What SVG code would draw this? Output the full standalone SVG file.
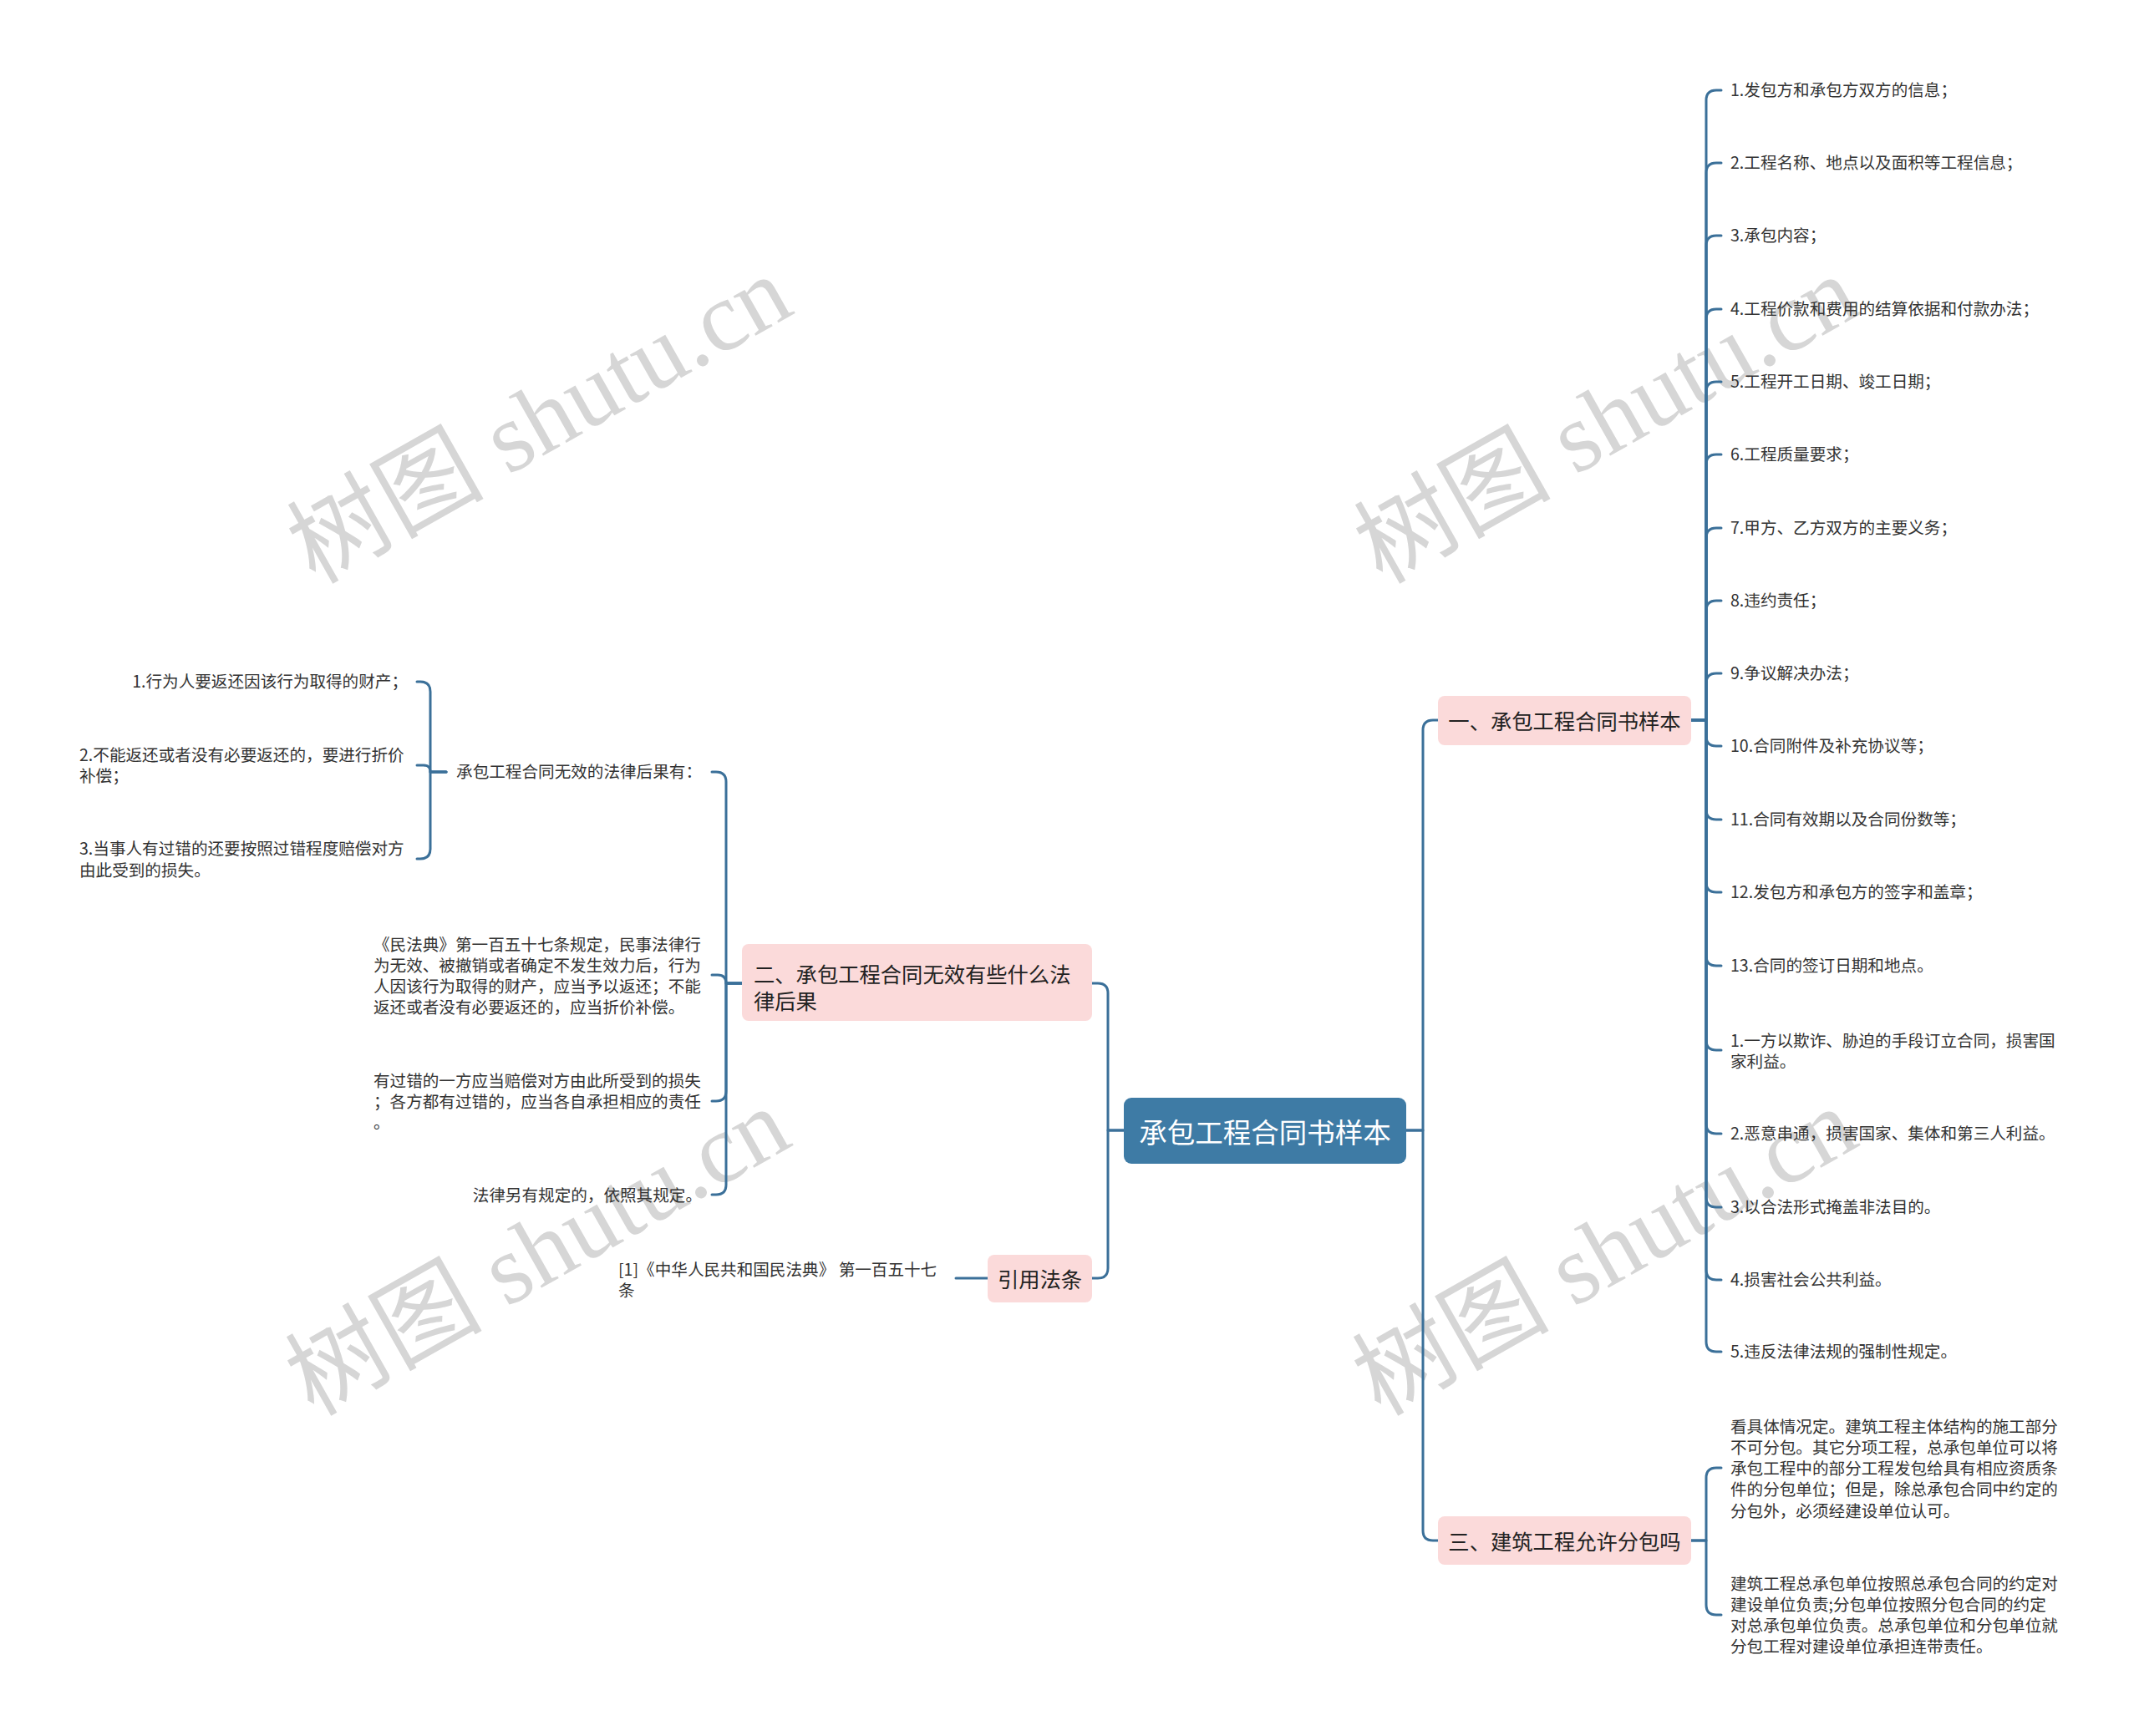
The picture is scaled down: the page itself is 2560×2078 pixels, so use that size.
<svg xmlns="http://www.w3.org/2000/svg" width="2560" height="2078" viewBox="0 0 2560 2078">
<style>
.bg{fill:#ffffff}
.wm{font-family:"Liberation Serif","Noto Sans CJK SC",serif;font-size:118px;fill:#d6d6d6}
.con path{fill:none;stroke:#3b7099;stroke-width:3;stroke-linecap:round;stroke-linejoin:round}
.root rect{fill:#3e7ba5}
.root text{font-family:"Noto Sans CJK SC",sans-serif;font-size:33.5px;fill:#ffffff;dominant-baseline:central;text-anchor:middle}
.l1 rect{fill:#fbdada}
.l1 text{font-family:"Noto Sans CJK SC",sans-serif;font-size:25.3px;fill:#222222;dominant-baseline:central}
.leaf text{font-family:"Noto Sans CJK SC",sans-serif;font-size:19.6px;fill:#333333;dominant-baseline:central;transform:translateY(-1.5px)}
.mid{text-anchor:middle}
.end{text-anchor:end}
</style>
<rect class="bg" x="0" y="0" width="2560" height="2078"/>
<g id="watermarks">
<text class="wm" x="377" y="700" transform="rotate(-29.5 377 700)">树图 shutu.cn</text>
<text class="wm" x="1654" y="700" transform="rotate(-29.5 1654 700)">树图 shutu.cn</text>
<text class="wm" x="375" y="1696" transform="rotate(-29.5 375 1696)">树图 shutu.cn</text>
<text class="wm" x="1652" y="1696" transform="rotate(-29.5 1652 1696)">树图 shutu.cn</text>
</g>
<g id="connectors" class="con">
<path d="M1345,1353 H1326 V1189 Q1326,1177 1314,1177 H1307"/>
<path d="M1345,1353 H1326 V1518 Q1326,1530 1314,1530 H1307"/>
<path d="M1683,1353 H1703 V874 Q1703,862 1715,862 H1721"/>
<path d="M1683,1353 H1703 V1832 Q1703,1844 1715,1844 H1721"/>
<path d="M2024,862 H2042 V120 Q2042,108 2054,108 H2060"/>
<path d="M2024,862 H2042 V207 Q2042,195 2054,195 H2060"/>
<path d="M2024,862 H2042 V294 Q2042,282 2054,282 H2060"/>
<path d="M2024,862 H2042 V382 Q2042,370 2054,370 H2060"/>
<path d="M2024,862 H2042 V469 Q2042,457 2054,457 H2060"/>
<path d="M2024,862 H2042 V556 Q2042,544 2054,544 H2060"/>
<path d="M2024,862 H2042 V644 Q2042,632 2054,632 H2060"/>
<path d="M2024,862 H2042 V731 Q2042,719 2054,719 H2060"/>
<path d="M2024,862 H2042 V818 Q2042,806 2054,806 H2060"/>
<path d="M2024,862 H2042 V881 Q2042,893 2054,893 H2060"/>
<path d="M2024,862 H2042 V969 Q2042,981 2054,981 H2060"/>
<path d="M2024,862 H2042 V1056 Q2042,1068 2054,1068 H2060"/>
<path d="M2024,862 H2042 V1144 Q2042,1156 2054,1156 H2060"/>
<path d="M2024,862 H2042 V1245 Q2042,1257 2054,1257 H2060"/>
<path d="M2024,862 H2042 V1345 Q2042,1357 2054,1357 H2060"/>
<path d="M2024,862 H2042 V1433 Q2042,1445 2054,1445 H2060"/>
<path d="M2024,862 H2042 V1520 Q2042,1532 2054,1532 H2060"/>
<path d="M2024,862 H2042 V1606 Q2042,1618 2054,1618 H2060"/>
<path d="M2024,1844 H2042 V1769 Q2042,1757 2054,1757 H2060"/>
<path d="M2024,1844 H2042 V1921 Q2042,1933 2054,1933 H2060"/>
<path d="M888,1177 H869 V936 Q869,924 857,924 H852"/>
<path d="M888,1177 H869 Q869,1167 859,1167 H852"/>
<path d="M888,1177 H869 V1306 Q869,1318 857,1318 H852"/>
<path d="M888,1177 H869 V1418 Q869,1430 857,1430 H852"/>
<path d="M534,924 H515 V828 Q515,816 503,816 H499"/>
<path d="M534,924 H515 Q515,916 507,916 H499"/>
<path d="M534,924 H515 V1016 Q515,1028 503,1028 H499"/>
<path d="M1182,1530 H1144"/>
</g>
<g id="root" class="root">
<rect x="1345" y="1314" width="338" height="79" rx="9"/>
<text x="1514" y="1353">承包工程合同书样本</text>
</g>
<g id="n1" class="l1">
<rect x="1721" y="833" width="303" height="59" rx="8"/>
<text class="mid" x="1872.5" y="862">一、承包工程合同书样本</text>
</g>
<g id="n3" class="l1">
<rect x="1721" y="1815" width="303" height="58" rx="8"/>
<text class="mid" x="1872.5" y="1843.5">三、建筑工程允许分包吗</text>
</g>
<g id="n2" class="l1">
<rect x="888" y="1130" width="419" height="92" rx="8"/>
<text><tspan x="902" y="1164.5">二、承包工程合同无效有些什么法</tspan><tspan x="902" y="1196.5">律后果</tspan></text>
</g>
<g id="n4" class="l1">
<rect x="1182" y="1502" width="125" height="57" rx="8"/>
<text class="mid" x="1244.5" y="1530">引用法条</text>
</g>
<g id="r1" class="leaf"><text x="2071" y="108">1.发包方和承包方双方的信息；</text></g>
<g id="r2" class="leaf"><text x="2071" y="195">2.工程名称、地点以及面积等工程信息；</text></g>
<g id="r3" class="leaf"><text x="2071" y="282">3.承包内容；</text></g>
<g id="r4" class="leaf"><text x="2071" y="370">4.工程价款和费用的结算依据和付款办法；</text></g>
<g id="r5" class="leaf"><text x="2071" y="457">5.工程开工日期、竣工日期；</text></g>
<g id="r6" class="leaf"><text x="2071" y="544">6.工程质量要求；</text></g>
<g id="r7" class="leaf"><text x="2071" y="632">7.甲方、乙方双方的主要义务；</text></g>
<g id="r8" class="leaf"><text x="2071" y="719">8.违约责任；</text></g>
<g id="r9" class="leaf"><text x="2071" y="806">9.争议解决办法；</text></g>
<g id="r10" class="leaf"><text x="2071" y="893">10.合同附件及补充协议等；</text></g>
<g id="r11" class="leaf"><text x="2071" y="981">11.合同有效期以及合同份数等；</text></g>
<g id="r12" class="leaf"><text x="2071" y="1068">12.发包方和承包方的签字和盖章；</text></g>
<g id="r13" class="leaf"><text x="2071" y="1156">13.合同的签订日期和地点。</text></g>
<g id="r14" class="leaf"><text><tspan x="2071" y="1245">1.一方以欺诈、胁迫的手段订立合同，损害国</tspan><tspan x="2071" y="1270">家利益。</tspan></text></g>
<g id="r15" class="leaf"><text x="2071" y="1357">2.恶意串通，损害国家、集体和第三人利益。</text></g>
<g id="r16" class="leaf"><text x="2071" y="1445">3.以合法形式掩盖非法目的。</text></g>
<g id="r17" class="leaf"><text x="2071" y="1532">4.损害社会公共利益。</text></g>
<g id="r18" class="leaf"><text x="2071" y="1618">5.违反法律法规的强制性规定。</text></g>
<g id="r19" class="leaf"><text><tspan x="2071" y="1707">看具体情况定。建筑工程主体结构的施工部分</tspan><tspan x="2071" y="1732.3">不可分包。其它分项工程，总承包单位可以将</tspan><tspan x="2071" y="1757.6">承包工程中的部分工程发包给具有相应资质条</tspan><tspan x="2071" y="1782.9">件的分包单位；但是，除总承包合同中约定的</tspan><tspan x="2071" y="1808.2">分包外，必须经建设单位认可。</tspan></text></g>
<g id="r20" class="leaf"><text><tspan x="2071" y="1895">建筑工程总承包单位按照总承包合同的约定对</tspan><tspan x="2071" y="1920.3">建设单位负责;分包单位按照分包合同的约定</tspan><tspan x="2071" y="1945.6">对总承包单位负责。总承包单位和分包单位就</tspan><tspan x="2071" y="1970.9">分包工程对建设单位承担连带责任。</tspan></text></g>
<g id="l1" class="leaf"><text class="end" x="840" y="924">承包工程合同无效的法律后果有：</text></g>
<g id="l2" class="leaf"><text><tspan x="447" y="1130">《民法典》第一百五十七条规定，民事法律行</tspan><tspan x="447" y="1155.3">为无效、被撤销或者确定不发生效力后，行为</tspan><tspan x="447" y="1180.6">人因该行为取得的财产，应当予以返还；不能</tspan><tspan x="447" y="1205.9">返还或者没有必要返还的，应当折价补偿。</tspan></text></g>
<g id="l3" class="leaf"><text><tspan x="447" y="1293">有过错的一方应当赔偿对方由此所受到的损失</tspan><tspan x="447" y="1318.3">；各方都有过错的，应当各自承担相应的责任</tspan><tspan x="447" y="1343.6">。</tspan></text></g>
<g id="l4" class="leaf"><text class="end" x="840" y="1431">法律另有规定的，依照其规定。</text></g>
<g id="ll1" class="leaf"><text class="end" x="488" y="816">1.行为人要返还因该行为取得的财产；</text></g>
<g id="ll2" class="leaf"><text><tspan x="95" y="903">2.不能返还或者没有必要返还的，要进行折价</tspan><tspan x="95" y="928.5">补偿；</tspan></text></g>
<g id="ll3" class="leaf"><text><tspan x="95" y="1015.5">3.当事人有过错的还要按照过错程度赔偿对方</tspan><tspan x="95" y="1041">由此受到的损失。</tspan></text></g>
<g id="c1" class="leaf"><text><tspan x="740" y="1519">[1]《中华人民共和国民法典》 第一百五十七</tspan><tspan x="740" y="1544">条</tspan></text></g>
</svg>
